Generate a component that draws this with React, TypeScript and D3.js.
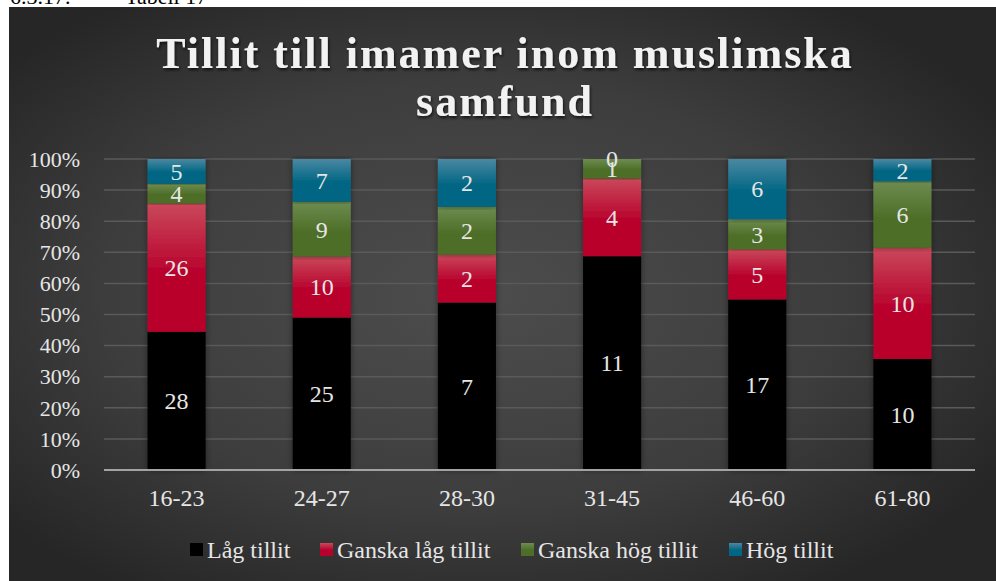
import React from 'react';
import * as d3 from 'd3';

const categories = ['16-23', '24-27', '28-30', '31-45', '46-60', '61-80'];
const seriesNames = ['Låg tillit', 'Ganska låg tillit', 'Ganska hög tillit', 'Hög tillit'];
const lag = [28, 25, 7, 11, 17, 10];
const ganskaLag = [26, 10, 2, 4, 5, 10];
const ganskaHog = [4, 9, 2, 1, 3, 6];
const hog = [5, 7, 2, 0, 6, 2];
const yTicks = [0, 0.1, 0.2, 0.3, 0.4, 0.5, 0.6, 0.7, 0.8, 0.9, 1];

const seriesValues = [lag, ganskaLag, ganskaHog, hog];
const baseColors = ['#000000', '#b8002c', '#4e6e27', '#006683'];
const topColors = ['#000000', '#c9495a', '#6d8c51', '#4a88a2'];

const width = 996;
const height = 581;
const margin = { top: 159, right: 21, bottom: 111, left: 104 };

const x = d3.scaleBand<string>()
  .domain(categories)
  .range([margin.left, width - margin.right])
  .paddingInner(0.6)
  .paddingOuter(0.3);

const y = d3.scaleLinear()
  .domain([0, 1])
  .range([height - margin.bottom, margin.top]);

const rows = categories.map((c, i) => {
  const r: any = { cat: c };
  seriesNames.forEach((s, j) => { r[s] = seriesValues[j][i]; });
  return r;
});

const stack = d3.stack<any>()
  .keys(seriesNames)
  .offset(d3.stackOffsetExpand);
const stacked = stack(rows);

const textColor = '#e6e6e6';
const font = "'Liberation Serif', 'DejaVu Serif', serif";

// legend square positions
const legendX = [190, 320, 521, 729];

export default function App() {
  return (
    <svg width={width} height={height} style={{ position: 'absolute', left: 0, top: 0, fontFamily: font }}>
      <defs>
        <radialGradient id="bg" cx="0.47" cy="0.5" r="0.62">
          <stop offset="0" stopColor="#4d4d4d" />
          <stop offset="0.6" stopColor="#3d3d3d" />
          <stop offset="1" stopColor="#262626" />
        </radialGradient>
        {baseColors.map((c, i) => (
          <linearGradient key={i} id={'g' + i} x1="0" y1="0" x2="0" y2="1">
            <stop offset="0" stopColor={topColors[i]} />
            <stop offset="0.55" stopColor={c} />
            <stop offset="1" stopColor={c} />
          </linearGradient>
        ))}
        <filter id="shadow" x="-20%" y="-5%" width="140%" height="110%">
          <feDropShadow dx="0" dy="0" stdDeviation="3" floodColor="#000" floodOpacity="0.45" />
        </filter>
        <filter id="tshadow" x="-5%" y="-20%" width="110%" height="140%">
          <feDropShadow dx="1" dy="2" stdDeviation="1.5" floodColor="#000" floodOpacity="0.7" />
        </filter>
      </defs>
      <rect x={0} y={0} width={width} height={height} fill="#ffffff" />
      <text x={10} y={4} fontSize={22} fill="#000">6.3.17.</text>
      <text x={125} y={4} fontSize={22} fill="#000">Tabell 17</text>
      <rect x={9} y={7} width={width - 9} height={height - 7} fill="url(#bg)" />

      <g filter="url(#tshadow)" fill="#f2f2f2" fontWeight="bold" fontSize={44} letterSpacing={2} textAnchor="middle">
        <text x={505} y={68}>Tillit till imamer inom muslimska</text>
        <text x={505} y={116}>samfund</text>
      </g>

      <g>
        {yTicks.map(t => (
          <g key={t}>
            {t > 0 && (
              <line x1={margin.left} x2={width - margin.right} y1={y(t)} y2={y(t)} stroke="#5a5a5a" strokeWidth={1.5} />
            )}
            <text x={80} y={y(t)} dy="0.35em" textAnchor="end" fontSize={22} fill={textColor}>
              {d3.format('.0%')(t)}
            </text>
          </g>
        ))}
      </g>

      {stacked.map((layer, i) => (
        <g key={layer.key}>
          {layer.map((d, k) => (
            <rect key={k}
              x={x(categories[k])}
              width={x.bandwidth()}
              y={y(d[1])}
              height={Math.max(0, y(d[0]) - y(d[1]))}
              fill={'url(#g' + i + ')'}
              filter="url(#shadow)" />
          ))}
        </g>
      ))}

      {stacked.map((layer, i) => (
        <g key={'l' + layer.key}>
          {layer.map((d, k) => (
            <text key={k}
              x={(x(categories[k]) as number) + x.bandwidth() / 2}
              y={(y(d[0]) + y(d[1])) / 2}
              dy="0.35em"
              textAnchor="middle"
              fontSize={24}
              fill={textColor}>
              {seriesValues[i][k]}
            </text>
          ))}
        </g>
      ))}

      <line x1={margin.left} x2={width - margin.right} y1={y(0)} y2={y(0)} stroke="#a3a3a3" strokeWidth={2} />

      {categories.map(c => (
        <text key={c} x={(x(c) as number) + x.bandwidth() / 2} y={506} textAnchor="middle" fontSize={24} fill={textColor}>
          {c}
        </text>
      ))}

      {seriesNames.map((s, i) => (
        <g key={s} transform={`translate(${legendX[i]},0)`}>
          <rect x={0} y={543} width={13} height={13} fill={'url(#g' + i + ')'} />
          <text x={17} y={558} fontSize={24} fill={textColor}>{s}</text>
        </g>
      ))}
    </svg>
  );
}
